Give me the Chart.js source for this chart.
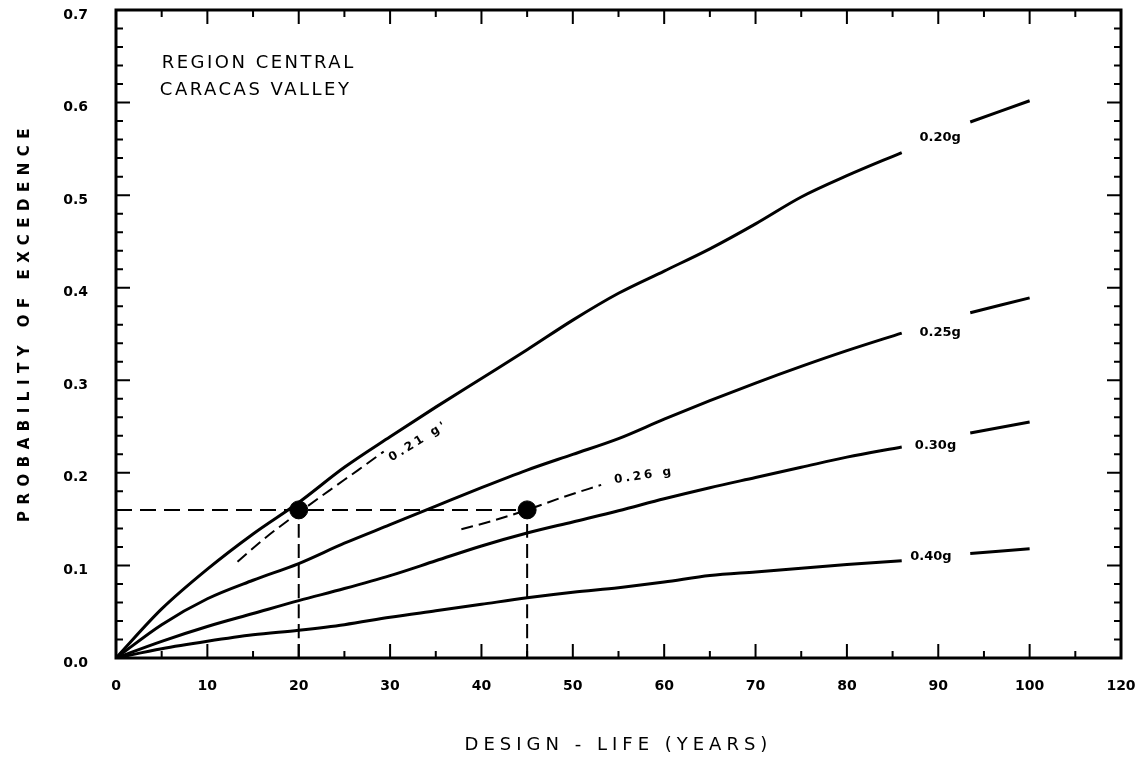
<!DOCTYPE html>
<html>
<head>
<meta charset="utf-8">
<script src="https://cdn.jsdelivr.net/npm/chart.js@4.4.0/dist/chart.umd.min.js"></script>
<style>
    html, body { margin: 0; padding: 0; background: #fff; }
    #wrap { width: 1141px; height: 766px; }
</style>
</head>
<body>
<div id="wrap"><canvas id="exceedance-chart" width="1141" height="766"></canvas></div>
<script>
// design life (years) shared by the four solid curves, null = gap for the label
const years = [0, 5, 10, 15, 20, 25, 30, 35, 40, 45, 50, 55, 60, 65, 70, 75, 80, 86, 90, 93.5, 100];
const pga020 = [0, 0.053, 0.096, 0.134, 0.168, 0.206, 0.239, 0.271, 0.302, 0.333, 0.365, 0.394, 0.418, 0.442, 0.469, 0.498, 0.521, 0.546, null, 0.579, 0.602];
const pga025 = [0, 0.036, 0.064, 0.084, 0.102, 0.124, 0.144, 0.164, 0.184, 0.203, 0.220, 0.237, 0.258, 0.278, 0.297, 0.315, 0.332, 0.351, null, 0.373, 0.389];
const pga030 = [0, 0.018, 0.034, 0.048, 0.062, 0.075, 0.089, 0.105, 0.121, 0.135, 0.147, 0.159, 0.172, 0.184, 0.195, 0.206, 0.217, 0.228, null, 0.243, 0.255];
const pga040 = [0, 0.010, 0.018, 0.025, 0.030, 0.036, 0.044, 0.051, 0.058, 0.065, 0.071, 0.076, 0.082, 0.089, 0.093, 0.097, 0.101, 0.105, null, 0.113, 0.118];

// dashed interpolated curves
const years021 = [13.3, 16.5, 20, 23.5, 26.5, 29.3];
const pga021 = [0.104, 0.131, 0.157, 0.182, 0.203, 0.223];
const years026 = [37.8, 41.5, 45, 49, 53.1];
const pga026 = [0.139, 0.149, 0.160, 0.174, 0.187];

// design points read on the chart
const designYears = [20, 45];
const designProb = [0.16, 0.16];

// curve labels (text, year, probability)
const curveLabels = ["0.20g", "0.25g", "0.30g", "0.40g"];
const curveLabelYears = [90.2, 90.2, 89.7, 89.2];
const curveLabelProbs = [0.562, 0.351, 0.229, 0.109];

const xTicks = [0, 10, 20, 30, 40, 50, 60, 70, 80, 90, 100, 110];
const xTickLabels = ["0", "10", "20", "30", "40", "50", "60", "70", "80", "90", "100", "120"];

const FONT = "'DejaVu Sans', sans-serif";

function toPoints(xs, ys) {
    return xs.map((x, i) => ({ x: x, y: ys[i] }));
}

function solid(data) {
    return {
        data: data,
        showLine: true,
        borderColor: "#000",
        borderWidth: 3,
        pointRadius: 0,
        cubicInterpolationMode: "monotone",
        spanGaps: false
    };
}

function dashed(data, dash) {
    return {
        data: data,
        showLine: true,
        borderColor: "#000",
        borderWidth: 2,
        borderDash: dash,
        pointRadius: 0,
        cubicInterpolationMode: "monotone"
    };
}

function drawText(ctx, text, x, y, font, spacing, align, angle) {
    ctx.save();
    ctx.translate(x, y);
    ctx.rotate(angle || 0);
    ctx.font = font;
    ctx.letterSpacing = spacing + "px";
    ctx.textAlign = align || "center";
    ctx.textBaseline = "middle";
    ctx.fillStyle = "#000";
    ctx.fillText(text, 0, 0);
    ctx.restore();
}

// frame, inward ticks, titles and curve labels
const decorations = {
    id: "decorations",
    afterDatasetsDraw(chart) {
        const ctx = chart.ctx;
        const a = chart.chartArea;
        const xs = chart.scales.x;
        const ys = chart.scales.y;

        ctx.save();
        ctx.strokeStyle = "#000";
        ctx.lineWidth = 2;
        for (let v = 5; v < 110; v += 5) {
            const px = xs.getPixelForValue(v);
            const len = v % 10 === 0 ? 14 : 7;
            ctx.beginPath();
            ctx.moveTo(px, a.bottom);
            ctx.lineTo(px, a.bottom - len);
            ctx.moveTo(px, a.top);
            ctx.lineTo(px, a.top + len);
            ctx.stroke();
        }
        for (let i = 1; i < 35; i++) {
            const py = ys.getPixelForValue(i * 0.02);
            const len = i % 5 === 0 ? 14 : 7;
            ctx.beginPath();
            ctx.moveTo(a.left, py);
            ctx.lineTo(a.left + len, py);
            ctx.moveTo(a.right, py);
            ctx.lineTo(a.right - len, py);
            ctx.stroke();
        }
        ctx.lineWidth = 3;
        ctx.strokeRect(a.left, a.top, a.right - a.left, a.bottom - a.top);
        ctx.restore();

        curveLabels.forEach((t, i) => {
            drawText(ctx, t, xs.getPixelForValue(curveLabelYears[i]), ys.getPixelForValue(curveLabelProbs[i]),
                "bold 13px " + FONT, 0, "center", 0);
        });
        drawText(ctx, "0.21 g'", xs.getPixelForValue(33.1), ys.getPixelForValue(0.234),
            "bold 12px " + FONT, 3, "center", -0.55);
        drawText(ctx, "0.26 g", xs.getPixelForValue(57.8), ys.getPixelForValue(0.197),
            "bold 12px " + FONT, 3, "center", -0.15);

        drawText(ctx, "REGION CENTRAL", xs.getPixelForValue(5), ys.getPixelForValue(0.642),
            "18px " + FONT, 2.5, "left", 0);
        drawText(ctx, "CARACAS VALLEY", xs.getPixelForValue(4.8), ys.getPixelForValue(0.613),
            "18px " + FONT, 2.5, "left", 0);

        drawText(ctx, "DESIGN - LIFE (YEARS)", (a.left + a.right) / 2, 745,
            "18px " + FONT, 5, "center", 0);
        drawText(ctx, "PROBABILITY OF EXCEDENCE", 25, 322,
            "bold 15px " + FONT, 6.5, "center", -Math.PI / 2);
    }
};

const chart_el = document.getElementById("exceedance-chart");

new Chart(chart_el, {
    type: "scatter",
    data: {
        datasets: [
            solid(toPoints(years, pga020)),
            solid(toPoints(years, pga025)),
            solid(toPoints(years, pga030)),
            solid(toPoints(years, pga040)),
            dashed(toPoints(years021, pga021), [12, 6]),
            dashed(toPoints(years026, pga026), [12, 6]),
            dashed([{ x: 0, y: designProb[0] }, { x: designYears[1], y: designProb[1] }], [16, 8]),
            dashed([{ x: designYears[0], y: 0 }, { x: designYears[0], y: designProb[0] }], [14, 6]),
            dashed([{ x: designYears[1], y: 0 }, { x: designYears[1], y: designProb[1] }], [14, 6]),
            {
                data: toPoints(designYears, designProb),
                pointRadius: 9,
                pointBackgroundColor: "#000",
                pointBorderColor: "#000",
                showLine: false
            }
        ]
    },
    options: {
        responsive: false,
        animation: false,
        layout: { padding: { top: 10, right: 20, left: 0, bottom: 0 } },
        plugins: {
            legend: { display: false },
            tooltip: { enabled: false }
        },
        scales: {
            x: {
                type: "linear",
                min: 0,
                max: 110,
                grid: { display: false, drawTicks: false },
                border: { display: false },
                afterBuildTicks: (s) => { s.ticks = xTicks.map((v) => ({ value: v })); },
                ticks: {
                    padding: 20,
                    color: "#000",
                    font: { family: FONT, size: 14, weight: "bold" },
                    maxRotation: 0,
                    autoSkip: false,
                    callback: (v) => xTickLabels[xTicks.indexOf(v)]
                },
                afterFit: (s) => {
                    s.height = 108;
                    s.paddingLeft = 0;
                    s.paddingRight = 0;
                }
            },
            y: {
                min: 0,
                max: 0.7,
                grid: { display: false, drawTicks: false },
                border: { display: false },
                ticks: {
                    stepSize: 0.1,
                    padding: 28,
                    labelOffset: 5,
                    color: "#000",
                    font: { family: FONT, size: 14, weight: "bold" },
                    callback: (v) => v.toFixed(1)
                },
                afterFit: (s) => {
                    s.width = 116;
                    s.paddingTop = 0;
                    s.paddingBottom = 0;
                }
            }
        }
    },
    plugins: [decorations]
});
</script>
</body>
</html>
